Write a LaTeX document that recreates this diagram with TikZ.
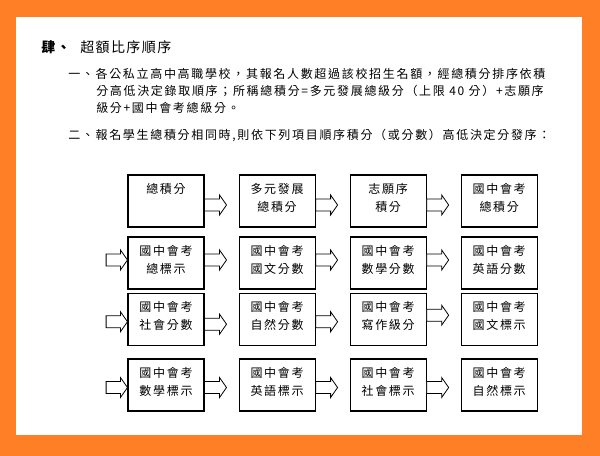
\documentclass[tikz,border=0pt]{standalone}
\usepackage{fontspec}
\newfontfamily\cjk[LetterSpace=14]{Noto Sans CJK TC}
\newfontfamily\cjktitle[LetterSpace=10]{Noto Sans CJK TC}
\usetikzlibrary{calc}
\usetikzlibrary{positioning}
\definecolor{frameorange}{RGB}{255,127,39}
\newcommand{\shaft}{4.5pt}
\newcommand{\head}{7.5pt}
\newcommand{\headlen}{5.25pt}
\newcommand{\lowstrut}{\rule[-6pt]{0pt}{6pt}}
% hollow block arrow: tail point, point giving the x of the tip
\newcommand{\fatarrow}[2]{%
  \draw[fatarrow] let \p1=#1, \p2=#2 in
    (\x1,\y1+\shaft) -- (\x2-\headlen,\y1+\shaft) -- (\x2-\headlen,\y1+\head)
    -- (\x2,\y1) -- (\x2-\headlen,\y1-\head) -- (\x2-\headlen,\y1-\shaft)
    -- (\x1,\y1-\shaft) -- cycle;}
\tikzset{
    box/.style={draw, line width=0.8pt, minimum width=57pt, minimum height=39pt,
        inner sep=0pt, align=center, font=\cjk\fontsize{9pt}{13.5pt}\selectfont},
    fatarrow/.style={draw, fill=white, line width=0.6pt},
    para/.style={anchor=west, inner sep=0pt, font=\cjk\fontsize{9pt}{13.5pt}\selectfont},
    heading/.style={anchor=west, inner sep=0pt, font=\cjktitle\fontsize{10.5pt}{13pt}\selectfont}
}

\begin{document}
\begin{tikzpicture}[x=0.75pt, y=-0.75pt]
    \useasboundingbox (0,0) rectangle (600,456);
    \fill[frameorange] (0,0) rectangle (600,456);
    \fill[white] (16,17) rectangle (582,435);

    \node[heading] (sec) at (41,47) {\textbf{肆、}};
    \node[heading] (sectitle) at (80,47) {超額比序順序};

    \node[para] (itemonea) at (68,74) {一、各公私立高中高職學校，其報名人數超過該校招生名額，經總積分排序依積};
    \node[para] (itemoneb) at (96,91) {分高低決定錄取順序；所稱總積分=多元發展總級分（上限 40 分）+志願序};
    \node[para] (itemonec) at (96,107.5) {級分+國中會考總級分。};
    \node[para] (itemtwo) at (68,136) {二、報名學生總積分相同時,則依下列項目順序積分（或分數）高低決定分發序：};

    % row 1
    \node[box] (b11) at (166,201) {總積分\\\lowstrut};
    \node[box, right=25.5pt of b11] (b12) {多元發展\\總積分\lowstrut};
    \node[box, right=25.5pt of b12] (b13) {志願序\\積分\lowstrut};
    \node[box, right=25.5pt of b13] (b14) {國中會考\\總積分\lowstrut};
    % row 2
    \node[box] (b21) at (166,263) {國中會考\\總標示\lowstrut};
    \node[box, right=25.5pt of b21] (b22) {國中會考\\國文分數\lowstrut};
    \node[box, right=25.5pt of b22] (b23) {國中會考\\數學分數\lowstrut};
    \node[box, right=25.5pt of b23] (b24) {國中會考\\英語分數\lowstrut};
    % row 3
    \node[box] (b31) at (166,319.2) {國中會考\\社會分數\lowstrut};
    \node[box, right=25.5pt of b31] (b32) {國中會考\\自然分數\lowstrut};
    \node[box, right=25.5pt of b32] (b33) {國中會考\\寫作級分\lowstrut};
    \node[box, right=25.5pt of b33] (b34) {國中會考\\國文標示\lowstrut};
    % row 4
    \node[box] (b41) at (166,385) {國中會考\\數學標示\lowstrut};
    \node[box, right=25.5pt of b41] (b42) {國中會考\\英語標示\lowstrut};
    \node[box, right=25.5pt of b42] (b43) {國中會考\\社會標示\lowstrut};
    \node[box, right=25.5pt of b43] (b44) {國中會考\\自然標示\lowstrut};

    \fatarrow{([yshift=-3pt]b11.east)}{($(b11.east)!16.5pt!(b12.west)$)}
    \fatarrow{([yshift=-3pt]b12.east)}{($(b12.east)!16.5pt!(b13.west)$)}
    \fatarrow{([yshift=-3pt]b13.east)}{($(b13.east)!16.5pt!(b14.west)$)}

    \fatarrow{([xshift=-16pt, yshift=2.25pt]b21.west)}{(b21.west)}
    \fatarrow{([yshift=2.25pt]b21.east)}{($(b21.east)!16.5pt!(b22.west)$)}
    \fatarrow{([yshift=2.25pt]b22.east)}{($(b22.east)!16.5pt!(b23.west)$)}
    \fatarrow{([yshift=2.25pt]b23.east)}{($(b23.east)!16.5pt!(b24.west)$)}

    \fatarrow{([xshift=-16pt, yshift=-1.9pt]b31.west)}{(b31.west)}
    \fatarrow{([yshift=-3.75pt]b31.east)}{($(b31.east)!16.5pt!(b32.west)$)}
    \fatarrow{([yshift=-1.9pt]b32.east)}{($(b32.east)!16.5pt!(b33.west)$)}
    \fatarrow{([yshift=3pt]b33.east)}{($(b33.east)!16.5pt!(b34.west)$)}

    \fatarrow{([xshift=-16pt, yshift=-1.9pt]b41.west)}{(b41.west)}
    \fatarrow{([yshift=-1.9pt]b41.east)}{($(b41.east)!16.5pt!(b42.west)$)}
    \fatarrow{([yshift=-1.9pt]b42.east)}{($(b42.east)!16.5pt!(b43.west)$)}
    \fatarrow{([yshift=-1.9pt]b43.east)}{($(b43.east)!16.5pt!(b44.west)$)}
\end{tikzpicture}
\end{document}
